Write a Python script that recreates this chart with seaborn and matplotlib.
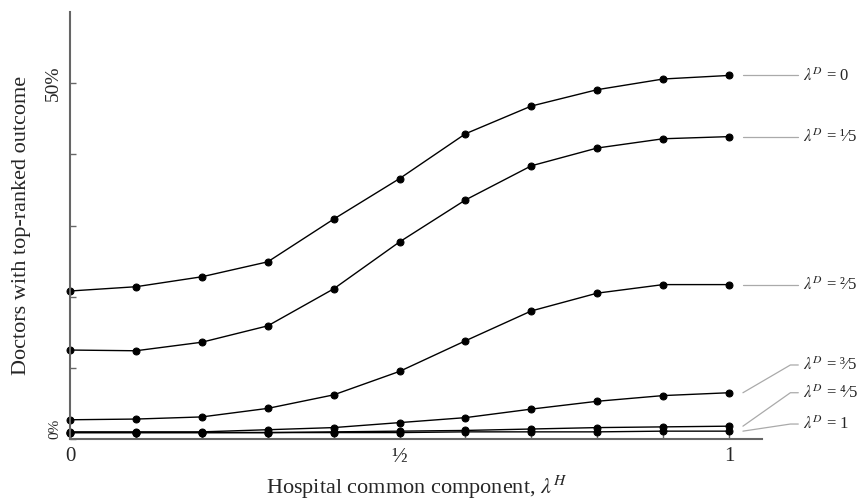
import numpy as np
import pandas as pd
import matplotlib
matplotlib.use("Agg")
import matplotlib.pyplot as plt
import seaborn as sns

# hospital common component on the x axis
lam_h = [0.0, 0.1, 0.2, 0.3, 0.4, 0.5, 0.6, 0.7, 0.8, 0.9, 1.0]

# share of doctors with top-ranked outcome, one list per doctor weight
share_0 = [0.208, 0.214, 0.228, 0.249, 0.309, 0.366, 0.429, 0.468, 0.491, 0.506, 0.511]
share_1_5 = [0.125, 0.124, 0.136, 0.159, 0.211, 0.277, 0.336, 0.384, 0.409, 0.422, 0.425]
share_2_5 = [0.027, 0.028, 0.031, 0.043, 0.062, 0.095, 0.138, 0.180, 0.205, 0.217, 0.217]
share_3_5 = [0.010, 0.010, 0.010, 0.013, 0.016, 0.023, 0.030, 0.042, 0.053, 0.061, 0.065]
share_4_5 = [0.009, 0.009, 0.009, 0.009, 0.010, 0.011, 0.012, 0.014, 0.016, 0.017, 0.018]
share_1 = [0.009, 0.009, 0.009, 0.009, 0.009, 0.009, 0.010, 0.010, 0.010, 0.011, 0.011]

series_names = ["0", "1/5", "2/5", "3/5", "4/5", "1"]
series_labels = [r"$\lambda^D$ = 0", r"$\lambda^D$ = ¹⁄5", r"$\lambda^D$ = ²⁄5",
                 r"$\lambda^D$ = ³⁄5", r"$\lambda^D$ = ⁴⁄5", r"$\lambda^D$ = 1"]
all_shares = [share_0, share_1_5, share_2_5, share_3_5, share_4_5, share_1]

rows = []
for name, vals in zip(series_names, all_shares):
    for x, v in zip(lam_h, vals):
        rows.append({"lam_h": x, "share": v, "lam_d": name})
df = pd.DataFrame(rows)

sns.set_style("white")
plt.rcParams["font.family"] = ["Liberation Serif", "DejaVu Serif"]
plt.rcParams["mathtext.fontset"] = "stix"

fig = plt.figure(figsize=(8.57, 5.01), dpi=100)
ax = fig.add_axes([0.0817, 0.1238, 0.8075, 0.852])

sns.lineplot(data=df, x="lam_h", y="share", hue="lam_d", palette=["black"] * 6,
             marker="o", markersize=5, markeredgecolor="black", linewidth=1,
             legend=False, ax=ax)
for ln in ax.lines:
    ln.set_clip_on(False)

ax.set_xlim(0, 1.05)
ax.set_ylim(0, 0.6)

# label placement (where each label sits, in data units)
label_y = [share_0[-1], share_1_5[-1], share_2_5[-1], 0.104, 0.065, 0.021]
for vals, ly, lab in zip(all_shares, label_y, series_labels):
    y_end = vals[-1]
    if abs(ly - y_end) < 0.005:
        ax.plot([1.021, 1.105], [y_end, y_end], color="#aaaaaa", lw=0.9, clip_on=False)
    else:
        ax.plot([1.021, 1.093, 1.105], [y_end, ly, ly], color="#aaaaaa", lw=0.9, clip_on=False)
    ax.text(1.112, ly, lab, fontsize=12, va="center", ha="left")

ax.set_xticks(lam_h)
ax.set_xticklabels(["0", "", "", "", "", "½", "", "", "", "", "1"], fontsize=15)
ax.set_yticks([0, 0.1, 0.2, 0.3, 0.4, 0.5])
ax.set_yticklabels(["0%", "", "", "", "", "50%"], rotation=90)
ylabs = ax.get_yticklabels()
ylabs[0].set_fontsize(11)
ylabs[0].set_va("bottom")
ylabs[5].set_fontsize(14)
ylabs[5].set_va("center")

ax.tick_params(axis="both", direction="in", length=4, width=1, color="#666666",
               bottom=True, left=True, pad=6)
ax.tick_params(axis="y", pad=6)

for side in ["top", "right"]:
    ax.spines[side].set_visible(False)
for side in ["left", "bottom"]:
    ax.spines[side].set_color("#666666")
    ax.spines[side].set_linewidth(1.5)

ax.set_xlabel(r"Hospital common component, $\lambda^H$", fontsize=16, labelpad=5)
ax.set_ylabel("Doctors with top-ranked outcome", fontsize=16, labelpad=10)

fig.savefig("out.png", dpi=100)
